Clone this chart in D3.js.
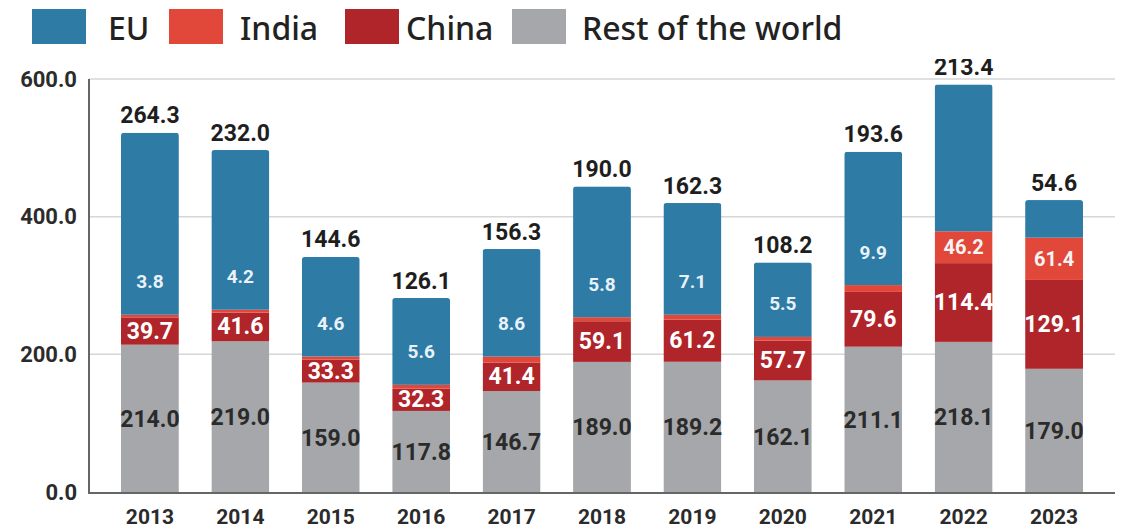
<!DOCTYPE html>
<html><head><meta charset="utf-8">
<script src="https://cdn.jsdelivr.net/npm/d3@7"></script>
<style>body{margin:0;background:#fff}svg{display:block}</style>
</head><body>
<script>
const years = ["2013","2014","2015","2016","2017","2018","2019","2020","2021","2022","2023"];
const rest  = [214.0,219.0,159.0,117.8,146.7,189.0,189.2,162.1,211.1,218.1,179.0];
const china = [39.7,41.6,33.3,32.3,41.4,59.1,61.2,57.7,79.6,114.4,129.1];
const india = [3.8,4.2,4.6,5.6,8.6,5.8,7.1,5.5,9.9,46.2,61.4];
const eu    = [264.3,232.0,144.6,126.1,156.3,190.0,162.3,108.2,193.6,213.4,54.6];
const yTicks = [0,200,400,600];
const seriesNames = ["EU","India","China","Rest of the world"];

const colors = {"EU":"#2e7ba6","India":"#e2483a","China":"#b0252a","Rest of the world":"#a5a7aa"};
const W=1127,H=530;
const svg=d3.select("body").append("svg").attr("width",W).attr("height",H);
const x=d3.scaleBand().domain(years).range([89,1115]).paddingInner(0.36).paddingOuter(0.354);
const y=d3.scaleLinear().domain([0,600]).range([492,79]);
const num="Roboto, 'Liberation Sans', sans-serif";

// gridlines
svg.append("g").selectAll("line").data(yTicks.slice(1)).join("line")
  .attr("x1",89).attr("x2",1115).attr("y1",d=>y(d)).attr("y2",d=>y(d))
  .attr("stroke","#d6d6d6").attr("stroke-width",1.5);

const rows=years.map((yr,i)=>({yr,rest:rest[i],china:china[i],india:india[i],eu:eu[i]}));
const stack=d3.stack().keys(["rest","china","india","eu"])(rows);
const keyName={rest:"Rest of the world",china:"China",india:"India",eu:"EU"};

const bw=x.bandwidth();
rows.forEach((r,i)=>{
  const top=y(r.rest+r.china+r.india+r.eu);
  const cx=x(r.yr);
  const cid="c"+i;
  svg.append("clipPath").attr("id",cid).append("rect")
    .attr("x",cx).attr("y",top).attr("width",bw).attr("height",y(0)-top+4).attr("rx",3);
  const g=svg.append("g").attr("clip-path",`url(#${cid})`);
  stack.forEach(s=>{
    const d=s[i];
    g.append("rect").attr("x",cx).attr("width",bw)
      .attr("y",y(d[1])).attr("height",y(d[0])-y(d[1]))
      .attr("fill",colors[keyName[s.key]]);
  });
});

// labels
const lab=(xx,yy,t,fill,size)=>svg.append("text").attr("x",xx).attr("y",yy).attr("text-anchor","middle")
  .attr("dominant-baseline","central").attr("font-family",num).attr("font-weight","bold")
  .attr("font-size",size).attr("fill",fill).text(t);
rows.forEach((r,i)=>{
  const cx=x(r.yr)+bw/2;
  const s=stack.map(k=>k[i]);
  lab(cx,y((s[0][0]+s[0][1])/2)+1,r.rest.toFixed(1),"#2b2b2b",23);
  lab(cx,y((s[1][0]+s[1][1])/2),r.china.toFixed(1),"#ffffff",23);
  if(r.india>=20) lab(cx,y((s[2][0]+s[2][1])/2),r.india.toFixed(1),"#f4f4f4",20);
  else lab(cx,y(s[2][1])-33,r.india.toFixed(1),"#e8f2f8",19);
  lab(cx,y(s[3][1])-17,r.eu.toFixed(1),"#1e1e1e",23);
});

// axes
svg.append("line").attr("x1",89).attr("x2",89).attr("y1",79).attr("y2",493).attr("stroke","#666").attr("stroke-width",2);
svg.append("line").attr("x1",88).attr("x2",1115).attr("y1",493).attr("y2",493).attr("stroke","#666").attr("stroke-width",2);
svg.append("g").selectAll("text").data(yTicks).join("text")
  .attr("x",77).attr("y",d=>y(d)).attr("text-anchor","end").attr("dominant-baseline","central")
  .attr("font-family",num).attr("font-weight","bold").attr("font-size",22).attr("fill","#2b2b2b")
  .text(d=>d.toFixed(1));
svg.append("g").selectAll("text").data(years).join("text")
  .attr("x",d=>x(d)+bw/2).attr("y",517).attr("text-anchor","middle").attr("dominant-baseline","central")
  .attr("font-family",num).attr("font-weight","bold").attr("font-size",21).attr("fill","#2b2b2b")
  .text(d=>d);

// legend with white background
svg.append("rect").attr("x",0).attr("y",0).attr("width",W).attr("height",59).attr("fill","#fff");
const legX=[32,169,345,512], legT=[108,240,406,582];
seriesNames.forEach((n,i)=>{
  svg.append("rect").attr("x",legX[i]).attr("y",9).attr("width",54).attr("height",35).attr("fill",colors[n]);
  svg.append("text").attr("x",legT[i]).attr("y",27).attr("dominant-baseline","central")
    .attr("font-family","'Noto Sans', 'Open Sans', sans-serif").attr("font-weight",500)
    .attr("font-size",32).attr("fill","#222").text(n);
});
</script>
</body></html>
